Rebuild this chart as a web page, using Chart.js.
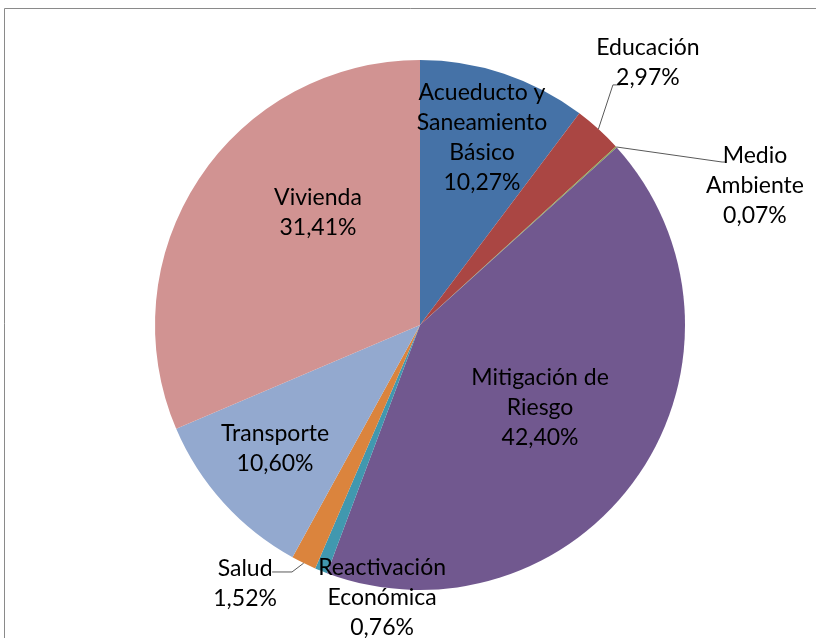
<!DOCTYPE html>
<html>
<head>
<meta charset="utf-8">
<script src="https://cdn.jsdelivr.net/npm/chart.js@4/dist/chart.umd.min.js"></script>
<style>
  html, body { margin: 0; padding: 0; background: #ffffff; }
  #wrap { position: relative; width: 816px; height: 638px; overflow: hidden; }
</style>
</head>
<body>
<div id="wrap"><canvas id="c" width="816" height="638"></canvas></div>
<script>
// ---- Data ----
const categories = ["Acueducto y Saneamiento Básico", "Educación", "Medio Ambiente", "Mitigación de Riesgo",
                    "Reactivación Económica", "Salud", "Transporte", "Vivienda"];
const values = [10.27, 2.97, 0.07, 42.40, 0.76, 1.52, 10.60, 31.41];
const labelLines = [
  ["Acueducto y", "Saneamiento", "Básico", "10,27%"],
  ["Educación", "2,97%"],
  ["Medio", "Ambiente", "0,07%"],
  ["Mitigación de", "Riesgo", "42,40%"],
  ["Reactivación", "Económica", "0,76%"],
  ["Salud", "1,52%"],
  ["Transporte", "10,60%"],
  ["Vivienda", "31,41%"]
];
const colors = ["#4572A7", "#AA4643", "#89A54E", "#71588F", "#4198AF", "#DB843D", "#93A9CF", "#D19392"];

// label block centres, as fractions of the radius relative to the pie centre
const labelPos = [
  [0.234, -0.709], [0.860, -0.989], [1.264, -0.528], [0.453, 0.313],
  [-0.143, 1.030], [-0.660, 0.974], [-0.547, 0.468], [-0.385, -0.426]
];
// leader lines: [elbow, end] in radius fractions (null = none)
const leaders = [
  null,
  [[0.728, -0.906], [0.755, -0.906]],
  [[1.140, -0.615], [1.151, -0.615]],
  null, null,
  [[-0.483, 0.932], [-0.558, 0.932]],
  null, null
];

const FONT = '23px Lato, "Open Sans", sans-serif';
const LINE_H = 30;

const framePlugin = {
  id: 'frame',
  beforeDraw(chart) {
    const ctx = chart.ctx;
    ctx.save();
    ctx.strokeStyle = '#8a8a8a';
    ctx.lineWidth = 1;
    ctx.beginPath();
    ctx.moveTo(4.5, chart.height);
    ctx.lineTo(4.5, 8.5);
    ctx.lineTo(chart.width, 8.5);
    ctx.stroke();
    ctx.restore();
  }
};

const labelPlugin = {
  id: 'labels',
  afterDraw(chart) {
    const ctx = chart.ctx;
    const meta = chart.getDatasetMeta(0);
    const arc0 = meta.data[0];
    const cx = arc0.x, cy = arc0.y, r = arc0.outerRadius;
    ctx.save();
    // leader lines
    ctx.strokeStyle = '#595959';
    ctx.lineWidth = 1;
    meta.data.forEach((arc, i) => {
      const ld = leaders[i];
      if (!ld) return;
      const mid = (arc.startAngle + arc.endAngle) / 2;
      const sx = cx + Math.cos(mid) * r, sy = cy + Math.sin(mid) * r;
      ctx.beginPath();
      ctx.moveTo(sx, sy);
      ld.forEach(p => ctx.lineTo(cx + p[0] * r, cy + p[1] * r));
      ctx.stroke();
    });
    // text
    ctx.font = FONT;
    ctx.fillStyle = '#000000';
    ctx.textAlign = 'center';
    ctx.textBaseline = 'middle';
    labelLines.forEach((lines, i) => {
      const x = cx + labelPos[i][0] * r;
      const y0 = cy + labelPos[i][1] * r - (lines.length - 1) * LINE_H / 2;
      lines.forEach((t, k) => ctx.fillText(t, x, y0 + k * LINE_H));
    });
    ctx.restore();
  }
};

new Chart(document.getElementById('c'), {
  type: 'pie',
  data: {
    labels: categories,
    datasets: [{
      data: values,
      backgroundColor: colors,
      borderWidth: 0
    }]
  },
  options: {
    responsive: false,
    animation: false,
    layout: { padding: { left: 155, right: 131, top: 60, bottom: 48 } },
    plugins: { legend: { display: false }, tooltip: { enabled: false } }
  },
  plugins: [framePlugin, labelPlugin]
});
</script>
</body>
</html>
